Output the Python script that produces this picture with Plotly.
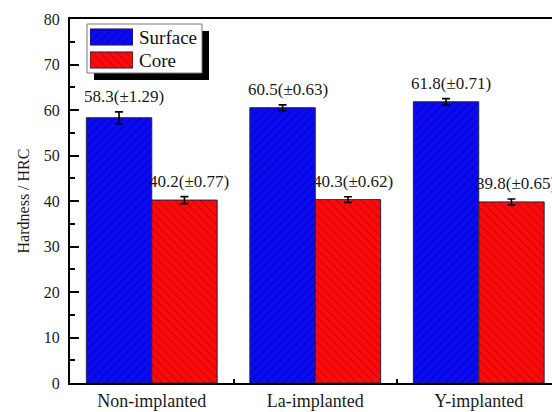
import plotly.graph_objects as go

# Hardness of the samples, surface vs core
samples = ["Non-implanted", "La-implanted", "Y-implanted"]
surface = [58.3, 60.5, 61.8]
surface_err = [1.29, 0.63, 0.71]
core = [40.2, 40.3, 39.8]
core_err = [0.77, 0.62, 0.65]
series_names = ["Surface", "Core"]

FONT = "Liberation Serif, Times New Roman, serif"
W, H = 552, 412
ML, MR, MT, MB = 70, 0, 19, 29
PW, PH = W - ML - MR, H - MT - MB


def px_x(px):
    return (px - ML) / PW


def px_y(py):
    return (H - MB - py) / PH


styles = [
    dict(color="#0a0af5", fg="#00006a", shape="/"),
    dict(color="#ff0a0a", fg="#8a0000", shape="\\"),
]

fig = go.Figure()
for name, vals, errs, st in zip(series_names, [surface, core], [surface_err, core_err], styles):
    fig.add_trace(go.Bar(
        name=name, x=samples, y=vals,
        marker=dict(color=st["color"], line=dict(color="#222244", width=1),
                    pattern=dict(shape=st["shape"], fgcolor=st["fg"], size=6, solidity=0.18)),
        error_y=dict(type="data", array=errs, color="black", thickness=1.6, width=4),
        showlegend=False,
    ))

# value labels above each error bar
bar_w = 0.4
for k, (vals, errs) in enumerate([(surface, surface_err), (core, core_err)]):
    offset = (k - 0.5) * bar_w
    for i, (v, e) in enumerate(zip(vals, errs)):
        fig.add_annotation(x=i + offset, y=v + e, xref="x", yref="y",
                           text=f"{v}(\u00b1{e})", showarrow=False,
                           yanchor="bottom", yshift=4, xshift=5,
                           font=dict(family=FONT, size=17, color="#1a1a1a"))

# legend box with drop shadow
lx0, lx1, ly0, ly1 = 87, 202, 24, 73
fig.add_shape(type="rect", xref="paper", yref="paper", layer="below",
              x0=px_x(lx0 + 7), x1=px_x(lx1 + 7), y0=px_y(ly1 + 7), y1=px_y(ly0 + 7),
              fillcolor="black", line=dict(width=0))
fig.add_shape(type="rect", xref="paper", yref="paper", layer="below",
              x0=px_x(lx0), x1=px_x(lx1), y0=px_y(ly1), y1=px_y(ly0),
              fillcolor="white", line=dict(color="#777777", width=1))

# legend swatches drawn as patterned bars on a small overlay axis
for j, (name, st) in enumerate(zip(series_names, styles)):
    fig.add_trace(go.Bar(
        x=[1], y=[1 - j], orientation="h", width=0.7, xaxis="x2", yaxis="y2",
        marker=dict(color=st["color"], line=dict(color="#222244", width=1),
                    pattern=dict(shape=st["shape"], fgcolor=st["fg"], size=6, solidity=0.18)),
        showlegend=False, hoverinfo="skip",
    ))
    fig.add_annotation(x=px_x(137), y=px_y(37 + 23 * j), xref="paper", yref="paper",
                       text=name, showarrow=False, xanchor="left", yanchor="middle",
                       font=dict(family=FONT, size=19, color="#111111"))

fig.update_layout(
    width=W, height=H,
    margin=dict(l=ML, r=MR, t=MT, b=MB, autoexpand=False),
    paper_bgcolor="white", plot_bgcolor="rgba(0,0,0,0)",
    barmode="group", bargap=0.2, bargroupgap=0,
    font=dict(family=FONT, color="#1a1a1a"),
    xaxis=dict(range=[-0.5, -0.5 + PW / 163.5], showline=True, linecolor="black", linewidth=2,
               mirror=True, ticks="inside", tickson="boundaries", ticklen=4, tickwidth=1.5,
               tickcolor="black", tickfont=dict(size=18), showgrid=False, zeroline=False,
               automargin=False),
    yaxis=dict(range=[0, 80], showline=True, linecolor="black", linewidth=2,
               ticks="inside", ticklen=9, tickwidth=2, tickcolor="black", dtick=10,
               minor=dict(ticks="inside", ticklen=5, tickwidth=1.5, dtick=5, tickcolor="black"),
               tickfont=dict(size=16), ticklabelstandoff=5,
               showgrid=False, zeroline=False, automargin=False,
               title=dict(text="Hardness / HRC", font=dict(size=16), standoff=10)),
    xaxis2=dict(domain=[px_x(90), px_x(133)], range=[0, 1], anchor="y2",
                visible=False, fixedrange=True),
    yaxis2=dict(domain=[px_y(71.5), px_y(25.5)], range=[-0.5, 1.5], anchor="x2",
                visible=False, fixedrange=True),
)

fig.write_html("out.html")
